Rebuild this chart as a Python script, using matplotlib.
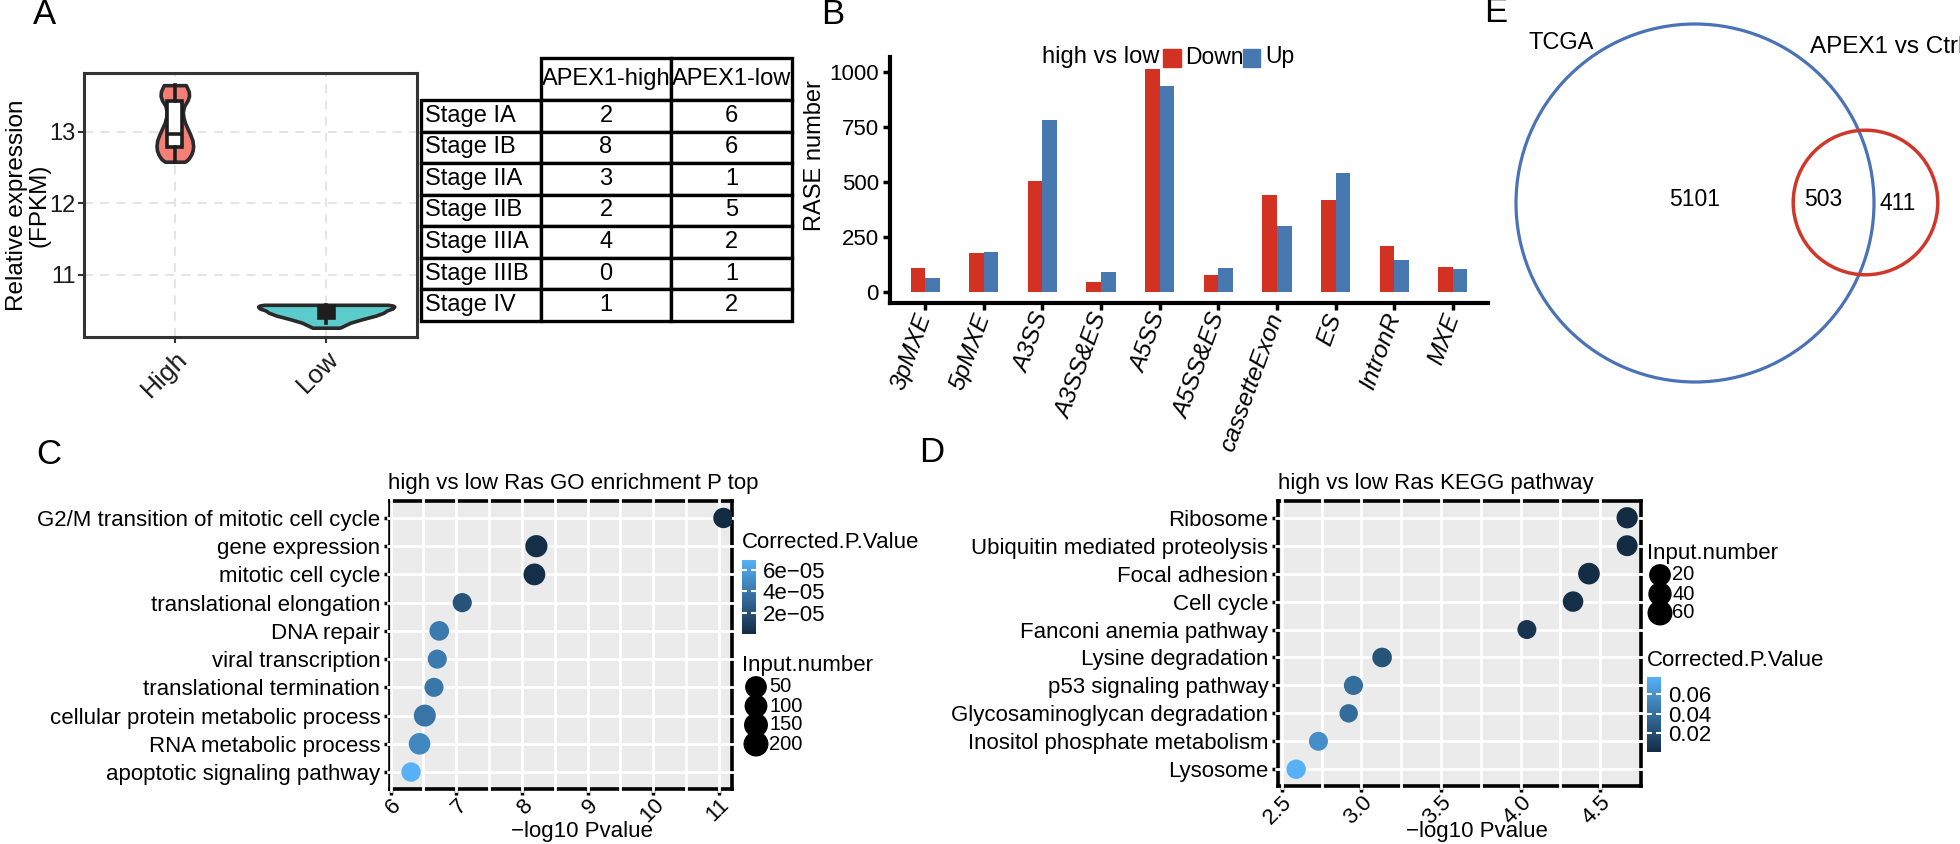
import numpy as np
import matplotlib
matplotlib.use("Agg")
import matplotlib.pyplot as plt
from matplotlib.colors import LinearSegmentedColormap, Normalize
from matplotlib.cm import ScalarMappable
from matplotlib.patches import Rectangle, Circle
from matplotlib.table import Table

plt.rcParams['font.family'] = ['Liberation Sans', 'DejaVu Sans']

# ======================= DATA =======================
# Panel A: violin density profiles (expression level, half-width)
groups = ["High", "Low"]
high_y = [12.58, 12.62, 12.68, 12.74, 12.80, 12.88, 12.96, 13.04, 13.12,
          13.20, 13.28, 13.36, 13.44, 13.50, 13.56, 13.61, 13.65]
high_hw = [0.066, 0.090, 0.108, 0.118, 0.121, 0.116, 0.102, 0.085, 0.068,
           0.057, 0.053, 0.062, 0.085, 0.094, 0.092, 0.082, 0.073]
low_y = [10.26, 10.29, 10.33, 10.38, 10.43, 10.47, 10.50, 10.53, 10.555, 10.57, 10.58]
low_hw = [0.09, 0.12, 0.16, 0.24, 0.33, 0.38, 0.40, 0.44, 0.45, 0.44, 0.41]
high_box = dict(whislo=12.58, q1=12.79, med=12.97, q3=13.43, whishi=13.65)
low_box = dict(whislo=10.33, q1=10.40, med=10.49, q3=10.56, whishi=10.58)

table_cols = ["APEX1-high", "APEX1-low"]
stages = ["Stage IA", "Stage IB", "Stage IIA", "Stage IIB", "Stage IIIA", "Stage IIIB", "Stage IV"]
apex1_high = [2, 8, 3, 2, 4, 0, 1]
apex1_low = [6, 6, 1, 5, 2, 1, 2]

# Panel B: RASE numbers
event_types = ["3pMXE", "5pMXE", "A3SS", "A3SS&ES", "A5SS", "A5SS&ES",
               "cassetteExon", "ES", "IntronR", "MXE"]
down_counts = [107, 176, 501, 45, 1012, 76, 438, 417, 208, 111]
up_counts = [62, 180, 779, 88, 933, 107, 297, 540, 144, 103]

# Panel C: GO enrichment
go_terms = ["G2/M transition of mitotic cell cycle", "gene expression", "mitotic cell cycle",
            "translational elongation", "DNA repair", "viral transcription",
            "translational termination", "cellular protein metabolic process",
            "RNA metabolic process", "apoptotic signaling pathway"]
go_neglog10p = [11.07, 8.22, 8.19, 7.09, 6.74, 6.71, 6.66, 6.52, 6.44, 6.31]
go_corrected_p = [1e-7, 2e-6, 2.5e-6, 2.1e-5, 4.1e-5, 4.1e-5, 3.9e-5, 3.8e-5, 4.8e-5, 6.9e-5]
go_input_number = [120, 210, 190, 60, 80, 55, 55, 200, 180, 70]
go_size_legend = [50, 100, 150, 200]
go_cbar_ticks = [2e-5, 4e-5, 6e-5]
go_cbar_labels = ["2e\u221205", "4e\u221205", "6e\u221205"]

# Panel D: KEGG pathways
kegg_terms = ["Ribosome", "Ubiquitin mediated proteolysis", "Focal adhesion", "Cell cycle",
              "Fanconi anemia pathway", "Lysine degradation", "p53 signaling pathway",
              "Glycosaminoglycan degradation", "Inositol phosphate metabolism", "Lysosome"]
kegg_neglog10p = [4.67, 4.67, 4.43, 4.33, 4.04, 3.13, 2.95, 2.92, 2.73, 2.59]
kegg_corrected_p = [0.0005, 0.0005, 0.002, 0.003, 0.006, 0.024, 0.039, 0.038, 0.058, 0.078]
kegg_input_number = [50, 45, 55, 40, 20, 28, 22, 12, 20, 26]
kegg_size_legend = [20, 40, 60]
kegg_cbar_ticks = [0.02, 0.04, 0.06]

# Panel E: Venn counts
venn_sets = ["TCGA", "APEX1 vs Ctrl"]
tcga_only, overlap, apex_only = 5101, 503, 411

# ======================= FIGURE =======================
W, H, DPI = 1960, 844, 100
fig = plt.figure(figsize=(W / DPI, H / DPI), dpi=DPI)


def add_ax(x0, y0, x1, y1, **kw):
    return fig.add_axes([x0 / W, 1 - y1 / H, (x1 - x0) / W, (y1 - y0) / H], **kw)


cmap = LinearSegmentedColormap.from_list("gg", ["#132B43", "#56B1F7"])


def dot_area(n, lo, hi):
    d_px = 19.0 + 3.0 * (np.asarray(n, float) - lo) / (hi - lo)
    return (d_px * 72.0 / DPI) ** 2


# ---------------- Panel A: violin ----------------
axA = add_ax(84, 73, 417, 337)
axA.set_xlim(0.4, 2.6)
axA.set_ylim(10.13, 13.82)
vcols = ['#F47F76', '#5CCBCB']
for i, (yv, hw) in enumerate([(high_y, high_hw), (low_y, low_hw)]):
    pos = i + 1
    yv = np.asarray(yv)
    hw = np.asarray(hw)
    axA.fill_betweenx(yv, pos - hw, pos + hw, facecolor=vcols[i],
                      edgecolor='#2a2a2a', linewidth=2.6, zorder=2)
bp = axA.bxp([dict(high_box, fliers=[]), dict(low_box, fliers=[])], positions=[1, 2],
             widths=0.1, showfliers=False, showcaps=False, patch_artist=True,
             boxprops=dict(facecolor='white', edgecolor='#1e1e1e', linewidth=2.6),
             whiskerprops=dict(color='#1e1e1e', linewidth=2.6),
             medianprops=dict(color='#1e1e1e', linewidth=2.6), zorder=3)
bp['boxes'][1].set_facecolor('#1e1e1e')
axA.grid(True, color='#E3E3E3', linestyle=(0, (5, 4)), linewidth=1.3)
axA.set_axisbelow(True)
for s in axA.spines.values():
    s.set_color('#333333')
    s.set_linewidth(2.2)
axA.set_yticks([11, 12, 13])
axA.set_xticks([1, 2])
axA.set_xticklabels(groups, rotation=45, ha='right', va='top', rotation_mode='anchor')
axA.tick_params(axis='y', labelsize=17, length=4, width=1.5, color='#333333',
                labelcolor='#1a1a1a', pad=2)
axA.tick_params(axis='x', labelsize=19, length=4, width=1.5, color='#333333',
                labelcolor='#1a1a1a', pad=3)
axA.set_ylabel("Relative expression\n(FPKM)", fontsize=17.5, linespacing=1.0)
axA.yaxis.set_label_coords((50 - 84) / 333, 0.5)

# ---------------- Panel A: table ----------------
axT = add_ax(421, 58, 792, 321)
axT.axis('off')
tbl = Table(axT, bbox=[0, 0, 1, 1])
col_w = [120, 130, 121]
hdr_h, row_h = 42, 31.6
for j, name in enumerate(table_cols):
    tbl.add_cell(0, j + 1, width=col_w[j + 1], height=hdr_h, text=name, loc='center')
for i, st in enumerate(stages):
    c = tbl.add_cell(i + 1, 0, width=col_w[0], height=row_h, text=st, loc='left')
    c.PAD = 0.03
    tbl.add_cell(i + 1, 1, width=col_w[1], height=row_h, text=str(apex1_high[i]), loc='center')
    tbl.add_cell(i + 1, 2, width=col_w[2], height=row_h, text=str(apex1_low[i]), loc='center')
tbl.auto_set_font_size(False)
tbl.set_fontsize(17)
for cell in tbl.get_celld().values():
    cell.set_linewidth(2.4)
    cell.set_edgecolor('black')
axT.add_table(tbl)

# ---------------- Panel B: bars ----------------
red_b, blue_b = '#D33222', '#4878B0'
axB = add_ax(890, 57, 1488, 303)
xb = np.arange(len(event_types))
bw = 0.25
axB.bar(xb - bw / 2, down_counts, width=bw, color=red_b)
axB.bar(xb + bw / 2, up_counts, width=bw, color=blue_b)
axB.set_xlim(-0.6, len(event_types) - 0.4)
axB.set_ylim(-51, 1066)
axB.spines['top'].set_visible(False)
axB.spines['right'].set_visible(False)
for s in ['left', 'bottom']:
    axB.spines[s].set_linewidth(3)
axB.set_yticks([0, 250, 500, 750, 1000])
axB.set_xticks(xb)
axB.set_xticklabels(event_types, rotation=70, ha='right', va='center',
                    rotation_mode='anchor', style='italic')
axB.tick_params(axis='y', labelsize=16, length=5, width=2.5, color='black', pad=3)
axB.tick_params(axis='x', labelsize=17.5, length=5, width=2.5, color='black', pad=3)
axB.set_ylabel("RASE number", fontsize=17)
axB.yaxis.set_label_coords((826 - 890) / 598, 0.6)


# ---------------- Panels C & D: dot plots ----------------
def dot_panel(box, terms, xvals, pvals, nvals, xlim, xmajor, xminor, xticklabels, size_rng):
    ax = add_ax(*box)
    ax.set_facecolor('#EBEBEB')
    n = len(terms)
    ypos = np.arange(n)[::-1]
    ax.set_xlim(*xlim)
    ax.set_ylim(-0.6, n - 0.4)
    norm = Normalize(min(pvals), max(pvals))
    ax.scatter(xvals, ypos, s=dot_area(nvals, *size_rng), c=pvals, cmap=cmap, norm=norm,
               edgecolors='none', zorder=5)
    wpx = box[2] - box[0]
    hpx = box[3] - box[1]
    ex = 1.6 / hpx
    for v in list(xmajor) + list(xminor):
        ax.axvline(v, ymin=-ex, ymax=1 + ex, color='white', lw=2.0, zorder=3, clip_on=False)
    exx = 1.6 / wpx
    for yy in ypos:
        ax.axhline(yy, xmin=-exx, xmax=1 + exx, color='white', lw=2.0, zorder=3, clip_on=False)
    for s in ax.spines.values():
        s.set_linewidth(2.6)
        s.set_color('black')
        s.set_zorder(2.5)
    ax.set_yticks(ypos)
    ax.set_yticklabels(terms)
    ax.set_xticks(xmajor)
    ax.set_xticklabels(xticklabels, rotation=45, ha='right', va='top', rotation_mode='anchor')
    ax.tick_params(axis='y', labelsize=16, length=4, width=2.5, color='black', pad=3)
    ax.tick_params(axis='x', labelsize=16, length=4, width=2.5, color='black', pad=0)
    return ax, norm


axC, normC = dot_panel((390, 501, 732, 789), go_terms, go_neglog10p, go_corrected_p,
                       go_input_number, (5.99, 11.2), [6, 7, 8, 9, 10, 11],
                       [6.5, 7.5, 8.5, 9.5, 10.5], ["6", "7", "8", "9", "10", "11"], (50, 200))
axD, normD = dot_panel((1278, 501, 1641, 786), kegg_terms, kegg_neglog10p, kegg_corrected_p,
                       kegg_input_number, (2.476, 4.757), [2.5, 3.0, 3.5, 4.0, 4.5],
                       [2.75, 3.25, 3.75, 4.25], ["2.5", "3.0", "3.5", "4.0", "4.5"], (20, 60))


def colorbar(box, norm, ticks, labels):
    cax = add_ax(*box)
    cb = fig.colorbar(ScalarMappable(norm=norm, cmap=cmap), cax=cax, ticks=ticks)
    cb.outline.set_visible(False)
    cax.set_yticklabels(labels)
    cax.tick_params(axis='y', which='both', left=True, right=True, direction='in',
                    color='white', length=3.5, width=1.5, labelsize=16, pad=5)
    return cb


colorbar((742, 560, 756, 634), normC, go_cbar_ticks, go_cbar_labels)
colorbar((1647, 677, 1661, 752), normD, kegg_cbar_ticks, [f"{t:.2f}" for t in kegg_cbar_ticks])

# ---------------- Overlay: texts, legends, Venn ----------------
ov = fig.add_axes([0, 0, 1, 1], zorder=10)
ov.set_xlim(0, W)
ov.set_ylim(H, 0)
ov.axis('off')


def T(x, y, s, size=16, ha='left', va='center', **kw):
    ov.text(x, y, s, fontsize=size, ha=ha, va=va, color='black', **kw)


# panel letters
T(33, 15, "A", 25)
T(821, 14, "B", 25)
T(36, 455, "C", 25)
T(919, 452, "D", 25)
T(1484, 13, "E", 25)

# B legend
T(1042, 57, "high vs low", 17)
ov.add_patch(Rectangle((1163, 49), 18, 18, color=red_b))
T(1185, 57, "Down", 16.5)
ov.add_patch(Rectangle((1243, 49), 17, 18, color=blue_b))
T(1265, 57, "Up", 16.5)

# C titles / legends
T(388, 483, "high vs low Ras GO enrichment P top", 16)
T(582, 831, "\u2212log10 Pvalue", 16, ha='center')
T(742, 542, "Corrected.P.Value", 16)
T(742, 666, "Input.number", 16)
leg_y_C = [687, 706, 725, 744]
ov.scatter([756] * len(go_size_legend), leg_y_C, s=dot_area(go_size_legend, 50, 200) * 1.15,
           color='black', zorder=5)
for yy, v in zip(leg_y_C, go_size_legend):
    T(769, yy, str(v), 14.5)

# D titles / legends
T(1278, 483, "high vs low Ras KEGG pathway", 16)
T(1477, 831, "\u2212log10 Pvalue", 16, ha='center')
T(1647, 554, "Input.number", 16)
leg_y_D = [575, 594, 613]
ov.scatter([1660] * len(kegg_size_legend), leg_y_D, s=dot_area(kegg_size_legend, 20, 60) * 1.15,
           color='black', zorder=5)
for yy, v in zip(leg_y_D, kegg_size_legend):
    T(1672, yy, str(v), 14.5)
T(1647, 660, "Corrected.P.Value", 16)

# E: Venn
tcga_total = tcga_only + overlap
apex_total = apex_only + overlap
r_big = 179.0
r_small = r_big * np.sqrt(apex_total / tcga_total)
ov.add_patch(Circle((1695, 203), r_big, fill=False, ec='#4A72B6', lw=2.3))
ov.add_patch(Circle((1865.5, 202.5), r_small, fill=False, ec='#D0372B', lw=2.5))
T(1528, 43, venn_sets[0], 17)
T(1810, 47, venn_sets[1], 17.5)
T(1695, 200, str(tcga_only), 16.5, ha='center')
T(1823, 200, str(overlap), 16.5, ha='center')
T(1898, 204, str(apex_only), 16.5, ha='center')

fig.savefig("out.png", dpi=DPI)
